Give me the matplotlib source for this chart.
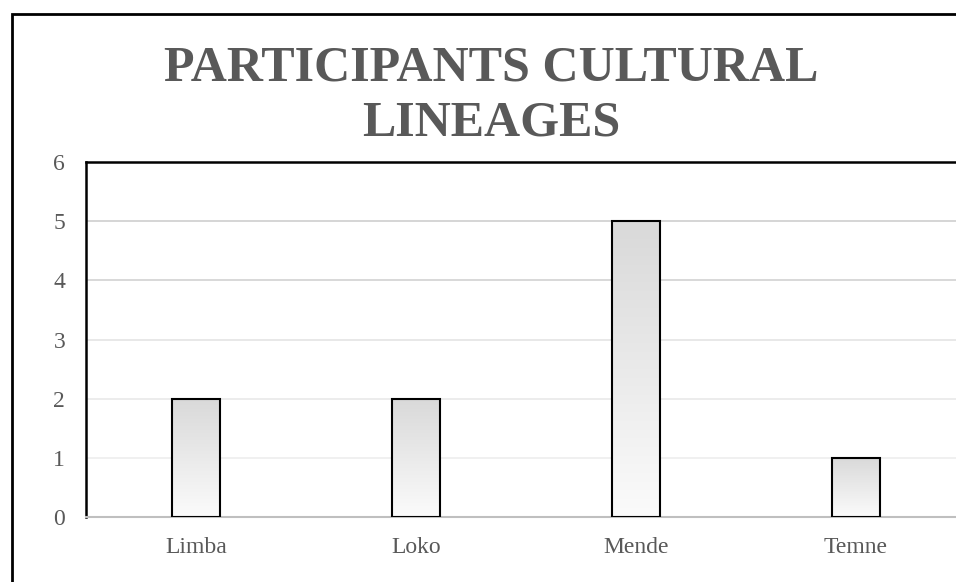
import numpy as np
import matplotlib.pyplot as plt
from matplotlib.patches import Rectangle
from matplotlib.colors import LinearSegmentedColormap

# donnees du graphique
categories = ["Limba", "Loko", "Mende", "Temne"]
valeurs = [2, 2, 5, 1]
yticks = [0, 1, 2, 3, 4, 5, 6]
titre = "PARTICIPANTS CULTURAL\nLINEAGES"

W, H = 956, 582
fig = plt.figure(figsize=(W / 100, H / 100), dpi=100)
plt.rcParams['font.family'] = ['Liberation Serif', 'DejaVu Serif']

# cadre exterieur (coupe a droite et en bas)
fig.patches.append(Rectangle((12 / W, -0.1), 1.2, (H - 14) / H + 0.1,
                             transform=fig.transFigure, fill=False,
                             edgecolor='black', linewidth=2))

# zone de trace : de x=86 a x=966 (depasse la figure), y=162 a y=517
left, right, top, bottom = 86, 966, 162, 517
ax = fig.add_axes([left / W, (H - bottom) / H, (right - left) / W, (bottom - top) / H])

x = np.arange(len(categories))
bars = ax.bar(x, valeurs, width=0.22, facecolor='none', edgecolor='black',
              linewidth=1.5, zorder=3)

# degrade dans les barres
cmap = LinearSegmentedColormap.from_list('g', ['#fbfbfb', '#d9d9d9'])
grad = np.linspace(0, 1, 256).reshape(-1, 1)
for b in bars:
    x0, y0 = b.get_x(), b.get_y()
    im = ax.imshow(grad, extent=[x0, x0 + b.get_width(), y0, y0 + b.get_height()],
                   cmap=cmap, origin='lower', aspect='auto', zorder=2)
    im.set_clip_path(b)

ax.set_xlim(-0.5, 3.5)
ax.set_ylim(0, 6)
ax.set_aspect('auto')

grid_colors = {1: '#efefef', 2: '#eaeaea', 3: '#e6e6e6', 4: '#d6d6d6', 5: '#d2d2d2'}
for lvl, c in grid_colors.items():
    ax.axhline(lvl, color=c, linewidth=1.3, zorder=1)

ax.set_yticks(yticks)
ax.set_xticks(x)
ax.set_xticklabels(categories)
ax.tick_params(axis='both', length=0, labelsize=17, labelcolor='#595959')
ax.tick_params(axis='y', pad=15)
ax.tick_params(axis='x', pad=14.5)

for s in ['left', 'top']:
    ax.spines[s].set_color('black')
    ax.spines[s].set_linewidth(1.8)
ax.spines['bottom'].set_color('#bfbfbf')
ax.spines['bottom'].set_linewidth(1.5)
ax.spines['right'].set_visible(False)

fig.text(491 / W, 1 - 96 / H, titre, ha='center', va='center', fontsize=36,
         fontweight='bold', color='#595959', linespacing=1.28)

fig.savefig("out.png", dpi=100)
